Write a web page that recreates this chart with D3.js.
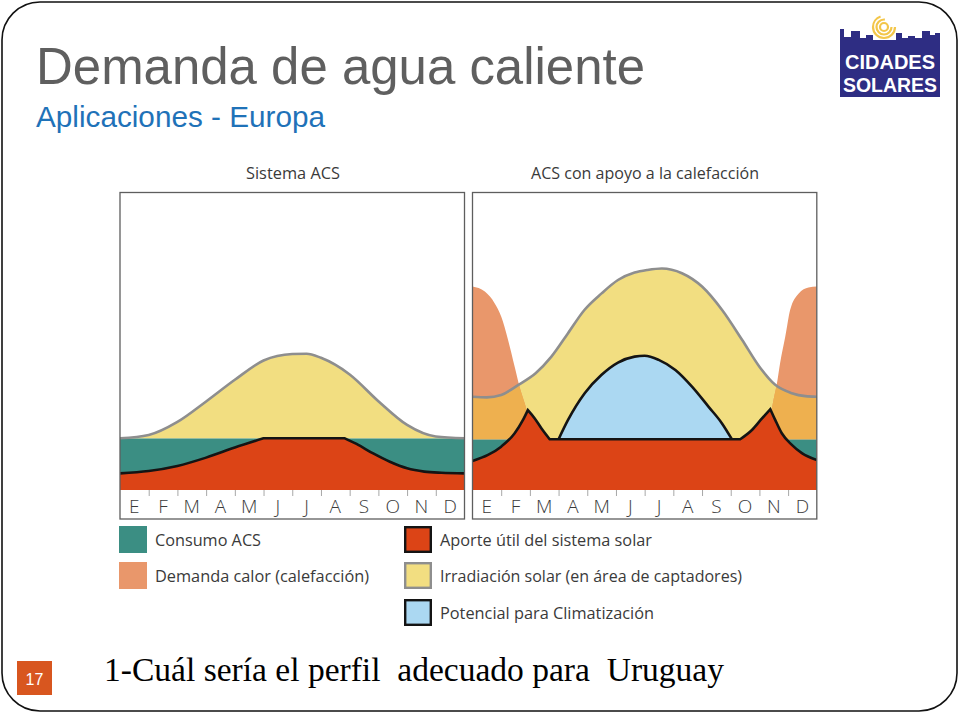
<!DOCTYPE html>
<html><head><meta charset="utf-8">
<script src="https://cdn.jsdelivr.net/npm/d3@7/dist/d3.min.js"></script>
<style>
html,body{margin:0;padding:0;background:#fff;}
svg{display:block;}
</style></head><body>
<svg id="chart" width="960" height="714"></svg>
<script>
// ---------------- data ----------------
const months = ["E","F","M","A","M","J","J","A","S","O","N","D"];
const panelTitles = ["Sistema ACS", "ACS con apoyo a la calefacción"];
const legendLabels = ["Consumo ACS", "Demanda calor (calefacción)", "Aporte útil del sistema solar",
  "Irradiación solar (en área de captadores)", "Potencial para Climatización"];

// Panel 1: Sistema ACS  ([month position, value])
const acsConsumo = 17.4;
const acsIrradiacion = [[0,17.4],[1,18.5],[2,22.9],[3,29.8],[4,37.1],[5,43.6],[6,45.8],[6.5,45.9],
  [7,44.5],[8,38.9],[9,29.9],[10,21.9],[11,18.0],[12,17.4]];
const acsAporte = [
  [[0,5.6],[1,6.4],[2,8.1],[3,10.9],[4,14.3],[5,17.4]],
  [[5,17.4],[7.83,17.4]],
  [[7.83,17.4],[8.24,15.5],[8.82,12.3],[9.4,9.5],[10,7.3],[10.6,6.2],[11.2,5.8],[12,5.6]]
];

// Panel 2: ACS con apoyo a la calefacción
const calConsumo = 17.1;
const calIrradiacion = [[0,31.4],[0.5,31.2],[1,32.0],[1.6,35.4],[2.2,39.3],[2.75,44.9],[3.33,52.8],
  [3.9,60.6],[4.5,66.2],[5.07,70.7],[5.65,73.2],[6.1,74.1],[6.6,74.6],[7.3,73.0],[8,68.5],[8.7,60.6],
  [9.4,50.5],[10,41.5],[10.55,35.4],[11.13,32.6],[11.6,31.6],[12,31.4]];
const calCalefaccion = [[0,68.5],[0.43,66.8],[0.77,62.9],[1.0,58.4],[1.24,50.5],[1.47,41.5],[1.64,34.8],
  [1.82,29.2],[2.05,22.1],[2.3,17.1],[10.2,17.1],[10.32,21.5],[10.49,30.3],[10.61,35.9],[10.72,42.7],
  [10.9,51.6],[11.07,60.6],[11.37,66.2],[11.71,68.2],[12,68.5]];
const calPotencial = [[3.0,17.1],[3.33,23.6],[3.91,32.6],[4.49,38.7],[5.07,42.9],[5.65,44.9],[6.0,45.2],
  [6.49,43.8],[7.07,40.4],[7.65,34.8],[8.23,28.0],[8.69,22.5],[9.04,17.1]];
const calAporte = [
  [[0,9.8],[0.54,11.8],[1.0,14.6],[1.47,19.1],[1.76,23.6],[1.93,26.9]],
  [[1.93,26.9],[2.17,24.1],[2.4,20.8],[2.69,17.1]],
  [[2.69,17.1],[9.33,17.1]],
  [[9.33,17.1],[9.74,20.2],[10.09,24.1],[10.38,27.2]],
  [[10.38,27.2],[10.55,23.6],[10.78,19.1],[11.13,15.2],[11.48,12.4],[12,10.1]]
];

// ---------------- style ----------------
const C = {
  teal: "#3b8e83", salmon: "#e9976b", gold: "#eeb04f", yellow: "#f2de81",
  red: "#dc4416", blue: "#abd8f2", gray: "#8e8e8e", ink: "#141414"
};
const FONT = "'Open Sans', 'Noto Sans', sans-serif";

const svg = d3.select("#chart");
const defs = svg.append("defs");

// slide frame
svg.append("rect").attr("x",2).attr("y",2).attr("width",955).attr("height",709)
  .attr("rx",38).attr("ry",38).attr("fill","none").attr("stroke","#111").attr("stroke-width",1.6);

// titles
svg.append("text").attr("x",36).attr("y",84).text("Demanda de agua caliente")
  .attr("font-family","'Liberation Sans', Arial, sans-serif").attr("font-size",52)
  .attr("textLength",609).attr("lengthAdjust","spacingAndGlyphs").attr("fill","#5f5f5f");
svg.append("text").attr("x",36).attr("y",127).text("Aplicaciones - Europa")
  .attr("font-family","'Liberation Sans', Arial, sans-serif").attr("font-size",30)
  .attr("textLength",289).attr("lengthAdjust","spacingAndGlyphs").attr("fill","#1f72b8");

// logo (decorative)
const logo = svg.append("g");
[4,7.5,11].forEach((r,i)=>{
  logo.append("circle").attr("cx",884).attr("cy",27).attr("r",r).attr("fill","none")
    .attr("stroke","#f3c64a").attr("stroke-width",2.2).attr("stroke-dasharray", i===2 ? "48 22" : (i===1 ? "36 11" : null));
});
logo.append("polygon").attr("fill","#2e2d83").attr("points",
  "840,97 840,29 844,29 844,37 851,37 851,31 860,31 860,38 866,38 866,35 873,35 873,40 896,40 896,33 902,33 902,38 908,38 908,36 915,36 915,38 922,38 922,31 930,31 930,35 935,35 935,33 940,33 940,97");
logo.append("text").attr("x",845).attr("y",69).text("CIDADES")
  .attr("font-family","'Liberation Sans', Arial, sans-serif").attr("font-weight","bold").attr("font-size",20)
  .attr("textLength",90).attr("lengthAdjust","spacingAndGlyphs").attr("fill","#fff");
logo.append("text").attr("x",843).attr("y",92).text("SOLARES")
  .attr("font-family","'Liberation Sans', Arial, sans-serif").attr("font-weight","bold").attr("font-size",20)
  .attr("textLength",94).attr("lengthAdjust","spacingAndGlyphs").attr("fill","#fff");

// ---------------- panels ----------------
const yTop = 193, yBot = 490, boxBottom = 519;

function segPath(segs, line) {
  return segs.map((s,i) => { const p = line(s); return i ? "L" + p.slice(1) : p; }).join("");
}

function drawPanel(idx, x0, x1, d) {
  const x = d3.scaleLinear().domain([0,12]).range([x0,x1]);
  const y = d3.scaleLinear().domain([0,100]).range([yBot,yTop]);
  const g = svg.append("g");
  const clipId = "plot" + idx;
  defs.append("clipPath").attr("id",clipId).append("rect")
    .attr("x",x(0)).attr("y",y(100)).attr("width",x(12)-x(0)).attr("height",y(0)-y(100));
  const pg = g.append("g").attr("clip-path",`url(#${clipId})`);

  const area = d3.area().x(p=>x(p[0])).y0(y(d.consumo)).y1(p=>y(p[1])).curve(d3.curveMonotoneX);
  const line = d3.line().x(p=>x(p[0])).y(p=>y(p[1])).curve(d3.curveMonotoneX);

  // consumo ACS band
  pg.append("rect").attr("x",x(0)).attr("y",y(d.consumo)).attr("width",x(12)-x(0))
    .attr("height",y(0)-y(d.consumo)).attr("fill",C.teal);
  // irradiación
  const yellowPath = area(d.irradiacion);
  pg.append("path").attr("d",yellowPath).attr("fill",C.yellow);
  // calefacción + overlap
  if (d.calefaccion) {
    pg.append("path").attr("d",area(d.calefaccion)).attr("fill",C.salmon);
    defs.append("clipPath").attr("id","irr"+idx).append("path").attr("d",yellowPath);
    pg.append("path").attr("d",area(d.calefaccion)).attr("fill",C.gold).attr("clip-path",`url(#irr${idx})`);
  }
  pg.append("path").attr("d",line(d.irradiacion)).attr("fill","none")
    .attr("stroke",C.gray).attr("stroke-width",2.6);
  // potencial
  if (d.potencial) {
    pg.append("path").attr("d",area(d.potencial)).attr("fill",C.blue);
    pg.append("path").attr("d",line(d.potencial)).attr("fill","none")
      .attr("stroke",C.ink).attr("stroke-width",2.6);
  }
  // aporte útil
  const top = segPath(d.aporte, line);
  pg.append("path").attr("d", top + `L${x(12)},${y(0)}L${x(0)},${y(0)}Z`).attr("fill",C.red);
  pg.append("path").attr("d",top).attr("fill","none").attr("stroke",C.ink)
    .attr("stroke-width",2.6).attr("stroke-linejoin","miter").attr("stroke-miterlimit",3);

  // month ticks
  g.append("g").attr("transform",`translate(0,${yBot})`)
    .call(d3.axisBottom(x).tickValues(d3.range(1,12)).tickSize(6).tickFormat(""))
    .call(a => { a.select(".domain").remove(); a.selectAll("line").attr("stroke","#a8a8a8").attr("stroke-width",1); });
  // month labels
  g.selectAll("text.month").data(months).enter().append("text").attr("class","month")
    .attr("x",(m,i)=>x(i+0.5)).attr("y",513).attr("text-anchor","middle")
    .attr("font-family",FONT).attr("font-size",19).attr("font-weight",300).attr("fill","#3a3a3a").text(m=>m);
  // box
  g.append("rect").attr("x",x(0)).attr("y",yTop-0.5).attr("width",x(12)-x(0)).attr("height",boxBottom-yTop+0.5)
    .attr("fill","none").attr("stroke","#5e5e5e").attr("stroke-width",1.3);
  // title
  g.append("text").attr("x",d.titleX).attr("y",179).text(d.title)
    .attr("font-family",FONT).attr("font-size",15.5).attr("fill","#3a3a3a")
    .attr("textLength",d.titleW).attr("lengthAdjust","spacingAndGlyphs");
}

drawPanel(0, 120, 464.5, {consumo: acsConsumo, irradiacion: acsIrradiacion, aporte: acsAporte,
  title: panelTitles[0], titleX: 246, titleW: 94});
drawPanel(1, 472.5, 816.8, {consumo: calConsumo, irradiacion: calIrradiacion, calefaccion: calCalefaccion,
  potencial: calPotencial, aporte: calAporte, title: panelTitles[1], titleX: 531, titleW: 228});

// ---------------- legend ----------------
const legendItems = [
  {label: legendLabels[0], fill: C.teal, stroke: null, col: 0, row: 0, w: 106},
  {label: legendLabels[1], fill: C.salmon, stroke: null, col: 0, row: 1, w: 214},
  {label: legendLabels[2], fill: C.red, stroke: C.ink, col: 1, row: 0, w: 212},
  {label: legendLabels[3], fill: C.yellow, stroke: C.gray, col: 1, row: 1, w: 302},
  {label: legendLabels[4], fill: C.blue, stroke: C.ink, col: 1, row: 2, w: 214}
];
const colX = [119, 404], rowY = [526, 562, 599];
const lg = svg.append("g");
legendItems.forEach(it => {
  const gx = colX[it.col], gy = rowY[it.row];
  const sw = it.stroke ? 2.4 : 0;
  lg.append("rect").attr("x",gx+sw/2).attr("y",gy+sw/2).attr("width",28-sw).attr("height",27-sw)
    .attr("fill",it.fill).attr("stroke",it.stroke || "none").attr("stroke-width",sw);
  lg.append("text").attr("x",gx+36).attr("y",gy+19.5).text(it.label)
    .attr("font-family",FONT).attr("font-size",16).attr("fill","#3a3a3a")
    .attr("textLength",it.w).attr("lengthAdjust","spacingAndGlyphs");
});

// ---------------- footer ----------------
svg.append("rect").attr("x",17).attr("y",661).attr("width",35).attr("height",34).attr("fill","#d8561f");
svg.append("text").attr("x",34.5).attr("y",684.5).attr("text-anchor","middle").text("17")
  .attr("font-family","'Liberation Sans', Arial, sans-serif").attr("font-size",16).attr("fill","#fff");
svg.append("text").attr("x",104).attr("y",681).text("1-Cuál sería el perfil  adecuado para  Uruguay")
  .attr("font-family","'Liberation Serif', 'Times New Roman', serif").attr("font-size",34)
  .attr("fill","#000").style("white-space","pre")
  .attr("textLength",620).attr("lengthAdjust","spacingAndGlyphs");
</script>
</body></html>
